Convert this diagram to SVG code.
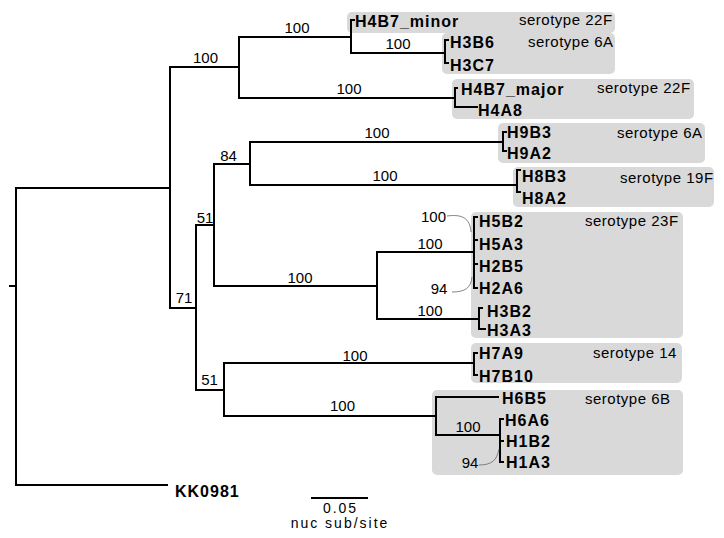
<svg xmlns="http://www.w3.org/2000/svg" width="724" height="538" viewBox="0 0 724 538">
<style>
.box{fill:#d9d9d9;stroke:none}
.br{fill:none;stroke:#000;stroke-width:2;stroke-linecap:square}
.co{fill:none;stroke:#666;stroke-width:0.8}
.leaf{font-family:"Liberation Sans",Arial,sans-serif;font-weight:bold;font-size:16px;letter-spacing:1px;fill:#000}
.sero{font-family:"Liberation Sans",Arial,sans-serif;font-size:15px;letter-spacing:0.5px;fill:#000}
.bs{font-family:"Liberation Sans",Arial,sans-serif;font-size:15px;fill:#000;text-anchor:middle}
.sc{font-family:"Liberation Sans",Arial,sans-serif;font-size:14px;letter-spacing:2px;fill:#000;text-anchor:middle}
</style>
<rect width="724" height="538" fill="#fff"/>
<g id="boxes">
<rect class="box" x="347" y="12" width="268" height="21" rx="5"/>
<rect class="box" x="442" y="33" width="173" height="41" rx="5"/>
<rect class="box" x="452" y="79" width="242" height="40" rx="5"/>
<rect class="box" x="498" y="123" width="207" height="40" rx="5"/>
<rect class="box" x="513" y="167" width="201" height="40" rx="5"/>
<rect class="box" x="471" y="212" width="212" height="126" rx="5"/>
<rect class="box" x="471" y="343" width="211" height="40" rx="5"/>
<rect class="box" x="432" y="390" width="251" height="85" rx="5"/>
</g>
<g id="connectors">
<path class="br" d="M10,286H16 M16,188V485 M16,188H170 M16,485H167"/>
<path class="br" d="M170,67V308 M170,67H239 M239,37V98 M239,37H351 M239,98H455"/>
<path class="br" d="M351,20V53 M351,20H354 M351,53H445 M445,40V63 M445,40H448 M445,63H448"/>
<path class="br" d="M455,88V107 M455,88H457 M455,107H477"/>
<path class="br" d="M170,308H196 M196,225V390 M196,225H214 M214,164V286 M214,164H250 M250,142V185 M250,142H503 M250,185H517"/>
<path class="br" d="M503,132V151 M503,132H506 M503,151H506 M517,170V192 M517,170H520 M517,192H520"/>
<path class="br" d="M214,286H377 M377,252V319 M377,252H474 M377,319H479 M474,217V288 M474,217H477 M474,240H477 M474,264H477 M474,288H477 M479,308V329 M479,308H482 M479,329H485"/>
<path class="br" d="M196,390H224 M224,363V416 M224,363H474 M474,353V375 M474,353H477 M474,375H477"/>
<path class="br" d="M224,416H436 M436,397V435 M436,397H498 M436,435H500 M500,419V462 M500,419H503 M500,441H503 M500,462H503"/>
<path class="br" d="M312,498H367"/>
<path class="co" d="M447,216C462,214 470,218 471,232"/>
<path class="co" d="M452,292C465,292 471,288 472,277"/>
<path class="co" d="M479,465C492,465 497,460 499,449"/>
</g>
<g id="bootstrap">
<text class="bs" x="205.5" y="63">100</text>
<text class="bs" x="297" y="33">100</text>
<text class="bs" x="398" y="49">100</text>
<text class="bs" x="349" y="94">100</text>
<text class="bs" x="377" y="138">100</text>
<text class="bs" x="385" y="181">100</text>
<text class="bs" x="228.5" y="161">84</text>
<text class="bs" x="205" y="223">51</text>
<text class="bs" x="184" y="303">71</text>
<text class="bs" x="209.5" y="385">51</text>
<text class="bs" x="433.5" y="222">100</text>
<text class="bs" x="430" y="249">100</text>
<text class="bs" x="300" y="283">100</text>
<text class="bs" x="439" y="294">94</text>
<text class="bs" x="430" y="316">100</text>
<text class="bs" x="355" y="361">100</text>
<text class="bs" x="342.5" y="411">100</text>
<text class="bs" x="468" y="432">100</text>
<text class="bs" x="470" y="468">94</text>
</g>
<g id="n-h4b7minor"><text class="leaf" x="355" y="27">H4B7_minor</text><text class="sero" x="519" y="25">serotype 22F</text></g>
<g id="n-h3"><text class="leaf" x="450" y="48">H3B6</text><text class="leaf" x="450" y="71">H3C7</text><text class="sero" x="528" y="47">serotype 6A</text></g>
<g id="n-h4b7major"><text class="leaf" x="461" y="95">H4B7_major</text><text class="leaf" x="478" y="116">H4A8</text><text class="sero" x="597" y="93">serotype 22F</text></g>
<g id="n-h9"><text class="leaf" x="507" y="138">H9B3</text><text class="leaf" x="507" y="159">H9A2</text><text class="sero" x="617" y="138">serotype 6A</text></g>
<g id="n-h8"><text class="leaf" x="522" y="182">H8B3</text><text class="leaf" x="522" y="204">H8A2</text><text class="sero" x="620" y="183">serotype 19F</text></g>
<g id="n-h5"><text class="leaf" x="479" y="227">H5B2</text><text class="leaf" x="479" y="250">H5A3</text><text class="leaf" x="479" y="272">H2B5</text><text class="leaf" x="479" y="294">H2A6</text><text class="leaf" x="487" y="317">H3B2</text><text class="leaf" x="487" y="336">H3A3</text><text class="sero" x="585" y="226">serotype 23F</text></g>
<g id="n-h7"><text class="leaf" x="479" y="359">H7A9</text><text class="leaf" x="479" y="382">H7B10</text><text class="sero" x="593" y="358">serotype 14</text></g>
<g id="n-h6"><text class="leaf" x="502" y="404">H6B5</text><text class="leaf" x="505" y="426">H6A6</text><text class="leaf" x="506" y="447">H1B2</text><text class="leaf" x="506" y="468">H1A3</text><text class="sero" x="585" y="404">serotype 6B</text></g>
<g id="n-kk"><text class="leaf" x="175" y="497">KK0981</text></g>
<g id="scale"><text class="sc" x="340.5" y="513">0.05</text><text class="sc" x="340" y="528">nuc sub/site</text></g>
</svg>
